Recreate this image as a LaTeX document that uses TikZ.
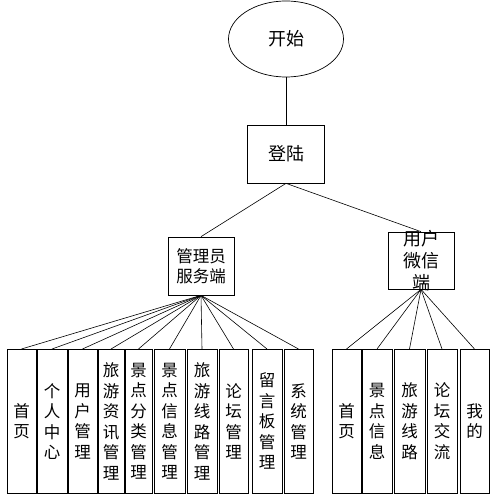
\documentclass[tikz,border=0pt]{standalone}
\usepackage{fontspec}
\newfontfamily\cjk{Noto Sans CJK SC}
\usetikzlibrary{shapes.geometric}

\begin{document}
\begin{tikzpicture}[x=1pt,y=-1pt,
    box/.style={draw,line width=0.7pt,inner sep=0pt,align=center},
    col/.style={box,anchor=north,minimum height=144pt,font=\cjk\fontsize{16.5}{20.5}\selectfont},
    link/.style={line width=0.6pt}]
    \useasboundingbox (0,0) rectangle (498,494);
    % top of the chart
    \node[box,ellipse,minimum width=115pt,minimum height=76pt,font=\cjk\fontsize{18}{20}\selectfont] (start) at (286,39) {开始};
    \node[box,minimum width=77pt,minimum height=58pt,font=\cjk\fontsize{18}{20}\selectfont] (login) at (286,154) {登陆};
    \node[box,minimum width=66pt,minimum height=58pt,font=\cjk\fontsize{16.5}{19.5}\selectfont] (admin) at (201,266) {管理员\\服务端};
    \node[box,minimum width=66pt,minimum height=57pt] (user) at (421,260.5) {};
    \node[align=center,inner sep=0pt,font=\cjk\fontsize{18}{22}\selectfont] (usertext) at (user.center) {用户\\微信\\端};
    \draw[link] (start) -- (login);
    \draw[link] (login.south) -- (admin.north);
    \draw[link] (login.south) -- (user.north);
    % admin modules
    \foreach \i/\x/\w/\txt in {
        1/21.5/29/{首\\页},2/52/30/{个\\人\\中\\心},3/82.5/29/{用\\户\\管\\理},
        4/111/26/{旅\\游\\资\\讯\\管\\理},5/138.5/27/{景\\点\\分\\类\\管\\理},
        6/169.5/31/{景\\点\\信\\息\\管\\理},7/202/30/{旅\\游\\线\\路\\管\\理},
        8/233.5/29/{论\\坛\\管\\理},9/267/30/{留\\言\\板\\管\\理},10/298.5/29/{系\\统\\管\\理}}{
        \node[col,minimum width=\w pt] (m\i) at (\x,349) {\txt};
        \draw[link] (admin.south) -- (m\i.north);
    }
    % user modules
    \foreach \i/\x/\w/\txt in {
        1/346.5/29/{首\\页},2/377/30/{景\\点\\信\\息},3/409.5/31/{旅\\游\\线\\路},
        4/442/30/{论\\坛\\交\\流},5/474.5/29/{我\\的}}{
        \node[col,minimum width=\w pt] (u\i) at (\x,349) {\txt};
        \draw[link] (user.south) -- (u\i.north);
    }
\end{tikzpicture}
\end{document}
